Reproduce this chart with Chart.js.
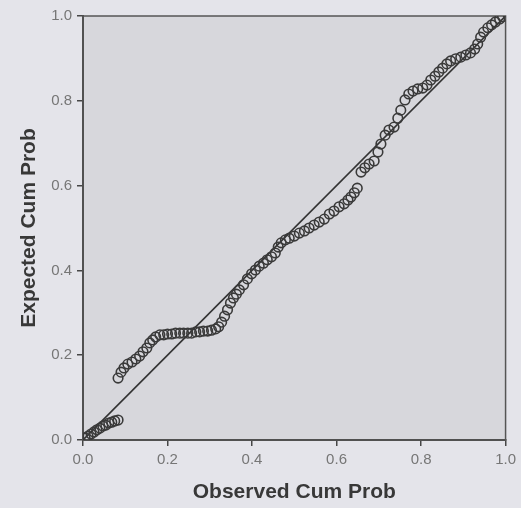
<!DOCTYPE html>
<html>
<head>
<meta charset="utf-8">
<script src="https://cdn.jsdelivr.net/npm/chart.js@4"></script>
<style>
  html, body { margin: 0; padding: 0; background: #e4e4ea; }
  #wrap { width: 521px; height: 508px; position: relative; }
</style>
</head>
<body>
<div id="wrap"><canvas id="pp"></canvas></div>
<script>
// P-P plot: observed vs expected cumulative probability
const observedCum = [
  0.005, 0.012, 0.019, 0.026, 0.033, 0.040, 0.047, 0.054, 0.061, 0.068, 0.075, 0.083,
  0.083, 0.090, 0.097, 0.106, 0.116, 0.125, 0.134, 0.142, 0.151, 0.158, 0.165, 0.172,
  0.182, 0.191, 0.200, 0.210, 0.219, 0.229, 0.238, 0.248, 0.257, 0.267, 0.276, 0.285,
  0.295, 0.304, 0.314, 0.321,
  0.328, 0.335, 0.342, 0.349, 0.356, 0.363, 0.370, 0.380, 0.389, 0.399, 0.408, 0.417,
  0.427, 0.436, 0.446, 0.455, 0.462, 0.469, 0.479, 0.488, 0.500, 0.512, 0.524, 0.535,
  0.547, 0.559, 0.571, 0.583, 0.594, 0.606, 0.618, 0.627, 0.634, 0.642, 0.649,
  0.658, 0.667, 0.677, 0.689, 0.698, 0.705, 0.715, 0.724, 0.736, 0.745, 0.752, 0.762,
  0.771, 0.781, 0.792, 0.804, 0.814, 0.823, 0.833, 0.842, 0.851, 0.861, 0.870, 0.882,
  0.894, 0.906, 0.917, 0.927, 0.934, 0.941, 0.948, 0.958, 0.967, 0.976, 0.986, 0.993
];
const expectedCum = [
  0.005, 0.009, 0.014, 0.019, 0.024, 0.028, 0.033, 0.035, 0.040, 0.042, 0.045, 0.047,
  0.146, 0.160, 0.170, 0.179, 0.184, 0.191, 0.198, 0.208, 0.217, 0.229, 0.236, 0.243,
  0.248, 0.248, 0.250, 0.250, 0.252, 0.252, 0.252, 0.252, 0.252, 0.255, 0.255, 0.257,
  0.257, 0.259, 0.262, 0.267,
  0.278, 0.292, 0.307, 0.323, 0.335, 0.344, 0.354, 0.366, 0.380, 0.392, 0.401, 0.410,
  0.417, 0.425, 0.432, 0.441, 0.455, 0.465, 0.472, 0.476, 0.481, 0.488, 0.493, 0.500,
  0.507, 0.514, 0.521, 0.533, 0.540, 0.550, 0.557, 0.566, 0.573, 0.583, 0.594,
  0.632, 0.642, 0.651, 0.658, 0.679, 0.698, 0.719, 0.731, 0.738, 0.759, 0.778, 0.802,
  0.816, 0.823, 0.828, 0.830, 0.837, 0.849, 0.858, 0.868, 0.877, 0.887, 0.894, 0.899,
  0.903, 0.908, 0.913, 0.922, 0.934, 0.950, 0.962, 0.972, 0.979, 0.986, 0.993, 0.998
];
// reference diagonal
const refLineX = [0, 1];
const refLineY = [0, 1];
const tickValues = [0, 0.2, 0.4, 0.6, 0.8, 1.0];

const AXIS = '#464646';
const TICK_TXT = '#767676';
const TITLE_TXT = '#383838';

// gray plot background + frame, light page background
const frame = {
  id: 'frame',
  beforeDraw(chart) {
    const { ctx, chartArea: a } = chart;
    ctx.save();
    ctx.fillStyle = '#e4e4ea';
    ctx.fillRect(0, 0, chart.width, chart.height);
    ctx.fillStyle = '#d7d7dc';
    ctx.fillRect(a.left, a.top, a.right - a.left, a.bottom - a.top);
    ctx.restore();
  },
  beforeDatasetsDraw(chart) {
    const { ctx, chartArea: a } = chart;
    ctx.save();
    ctx.strokeStyle = '#555';
    ctx.lineWidth = 1.5;
    ctx.strokeRect(a.left, a.top, a.right - a.left, a.bottom - a.top);
    ctx.restore();
  }
};

const pts = observedCum.map((x, i) => ({ x, y: expectedCum[i] }));
const diag = refLineX.map((x, i) => ({ x, y: refLineY[i] }));

new Chart(document.getElementById('pp'), {
  type: 'scatter',
  data: {
    datasets: [
      {
        data: diag,
        showLine: true,
        borderColor: '#333',
        borderWidth: 1.6,
        pointRadius: 0,
        order: 2
      },
      {
        data: pts,
        pointStyle: 'circle',
        pointRadius: 4.8,
        pointBackgroundColor: 'rgba(0,0,0,0)',
        pointBorderColor: '#3a3a3a',
        pointBorderWidth: 1.6,
        order: 1
      }
    ]
  },
  plugins: [frame],
  options: {
    responsive: true,
    maintainAspectRatio: false,
    animation: false,
    devicePixelRatio: 1,
    layout: { padding: { top: 16, right: 14, left: 0, bottom: 0 } },
    plugins: { legend: { display: false }, tooltip: { enabled: false } },
    scales: {
      x: {
        type: 'linear', min: 0, max: 1,
        afterBuildTicks: s => { s.ticks = tickValues.map(v => ({ value: v })); },
        afterFit: s => { s.height = 68; },
        grid: { drawOnChartArea: false, drawTicks: true, tickLength: 6, tickColor: AXIS, lineWidth: 1.5 },
        border: { display: true, color: AXIS, width: 2 },
        ticks: {
          color: TICK_TXT, padding: 5, maxRotation: 0, autoSkip: false,
          font: { family: 'Liberation Sans, Arial', size: 15 },
          callback: v => v.toFixed(1)
        },
        title: {
          display: true, text: 'Observed Cum Prob', color: TITLE_TXT,
          font: { family: 'Liberation Sans, Arial', size: 21, weight: 'bold' },
          padding: { top: 0, bottom: 3 }
        }
      },
      y: {
        type: 'linear', min: 0, max: 1,
        afterBuildTicks: s => { s.ticks = tickValues.map(v => ({ value: v })); },
        afterFit: s => { s.width = 83; },
        grid: { drawOnChartArea: false, drawTicks: true, tickLength: 6, tickColor: AXIS, lineWidth: 1.5 },
        border: { display: true, color: AXIS, width: 2 },
        ticks: {
          color: TICK_TXT, padding: 5,
          font: { family: 'Liberation Sans, Arial', size: 15 },
          callback: v => v.toFixed(1)
        },
        title: {
          display: true, text: 'Expected Cum Prob', color: TITLE_TXT,
          font: { family: 'Liberation Sans, Arial', size: 21, weight: 'bold' },
          padding: { top: 17, bottom: 0 }
        }
      }
    }
  }
});
</script>
</body>
</html>
